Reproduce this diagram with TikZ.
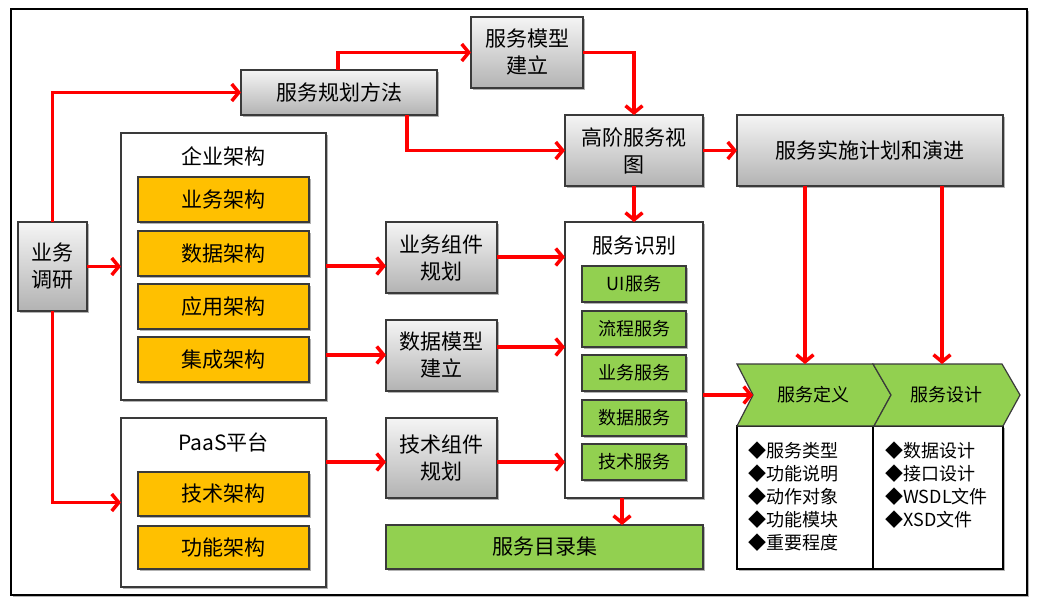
\documentclass[tikz,border=0pt]{standalone}
\usepackage{fontspec}
\setmainfont{Noto Sans CJK SC}
\usetikzlibrary{arrows.meta,shadows}
\definecolor{boxline}{HTML}{3A3A3A}
\definecolor{orangefill}{HTML}{FFC000}
\definecolor{greenfill}{HTML}{92D050}
\definecolor{arrred}{HTML}{FF0000}
\tikzset{
  shd/.style={drop shadow={shadow xshift=2pt,shadow yshift=-2pt,fill=black,opacity=0.3}},
  graybox/.style={draw=boxline,line width=1.4pt,top color=black!4,bottom color=black!30,shd,
    inner sep=0pt,outer sep=0pt,align=center,font=\fontsize{21}{27}\selectfont},
  whitebox/.style={draw=boxline,line width=1.2pt,fill=white,shd,inner sep=0pt,outer sep=0pt},
  orangebox/.style={draw=boxline,line width=1.4pt,fill=orangefill,shd,inner sep=0pt,outer sep=0pt,
    minimum width=171pt,font=\fontsize{21}{27}\selectfont},
  greenbox/.style={draw=boxline,line width=1.4pt,fill=greenfill,shd,inner sep=0pt,outer sep=0pt,
    minimum width=104pt,minimum height=36pt,font=\fontsize{18}{22}\selectfont},
  chev/.style={draw=boxline,line width=1.2pt,fill=greenfill,line join=miter},
  titletext/.style={font=\fontsize{21}{27}\selectfont,inner sep=0pt},
  listtext/.style={font=\fontsize{18}{23}\selectfont,align=left,inner sep=0pt,anchor=north west},
  arr/.style={draw=arrred,line width=3.5pt,-{Straight Barb[length=7pt,width=17pt]}},
}
\begin{document}
\begin{tikzpicture}[x=1pt,y=-1pt]
\useasboundingbox (0,0) rectangle (1038,608);
% outer frame
\draw[line width=1.4pt,fill=white,drop shadow={shadow xshift=2pt,shadow yshift=-2pt,fill=black,opacity=0.3}] (11,9) rectangle (1027,595);

% gray boxes
\node[graybox,minimum width=69pt,minimum height=89pt] (diaoyan) at (52.5,266.5) {业务\\调研};
\node[graybox,minimum width=196pt,minimum height=45pt] (guihua) at (339,92.5) {服务规划方法};
\node[graybox,minimum width=112pt,minimum height=71pt] (moxing) at (527,52.5) {服务模型\\建立};
\node[graybox,minimum width=138pt,minimum height=71pt] (gaojie) at (634,150.5) {高阶服务视\\图};
\node[graybox,minimum width=266pt,minimum height=71pt] (shishi) at (870,150.5) {服务实施计划和演进};
\node[graybox,minimum width=111pt,minimum height=71pt] (yewuzj) at (441.5,257.5) {业务组件\\规划};
\node[graybox,minimum width=111pt,minimum height=71pt] (shuju) at (441.5,355.5) {数据模型\\建立};
\node[graybox,minimum width=111pt,minimum height=80pt] (jishu) at (441.5,458) {技术组件\\规划};

% enterprise architecture
\node[whitebox,minimum width=205pt,minimum height=267pt] (qiye) at (223.5,266.5) {};
\node[titletext] (qiyet) at (223.5,156) {企业架构};
\node[orangebox,minimum height=45pt] (o1) at (223.5,199.5) {业务架构};
\node[orangebox,minimum height=45pt] (o2) at (223.5,253.5) {数据架构};
\node[orangebox,minimum height=45pt] (o3) at (223.5,306.5) {应用架构};
\node[orangebox,minimum height=45pt] (o4) at (223.5,359.5) {集成架构};

% PaaS
\node[whitebox,minimum width=205pt,minimum height=169pt] (paas) at (223.5,502.5) {};
\node[titletext] (paast) at (223.5,442) {PaaS平台};
\node[orangebox,minimum height=44pt] (o5) at (223.5,494) {技术架构};
\node[orangebox,minimum height=43pt] (o6) at (223.5,547.5) {功能架构};

% service identification
\node[whitebox,minimum width=138pt,minimum height=276pt] (shibie) at (634,360) {};
\node[titletext] (shibiet) at (634,246) {服务识别};
\node[greenbox] (g1) at (634,284) {UI服务};
\node[greenbox] (g2) at (634,329) {流程服务};
\node[greenbox] (g3) at (634,373) {业务服务};
\node[greenbox] (g4) at (634,418) {数据服务};
\node[greenbox] (g5) at (634,462) {技术服务};

% catalogue
\node[greenbox,minimum width=317pt,minimum height=44pt,font=\fontsize{21}{27}\selectfont] (mulu) at (544.5,547) {服务目录集};

% list boxes
\draw[line width=1.2pt,fill=white,drop shadow={shadow xshift=2pt,shadow yshift=-2pt,fill=black,opacity=0.3}] (737,426) rectangle (1003,569);
\draw[line width=1.2pt] (873,426) -- (873,569);
% chevrons
\draw[chev] (737,364) -- (873,364) -- (891,395) -- (874,426) -- (737,426) -- (753,395) -- cycle;
\draw[chev] (873,364) -- (1002,364) -- (1020,395) -- (1003,426) -- (874,426) -- (891,395) -- cycle;
\node[font=\fontsize{18}{22}\selectfont,inner sep=0pt] (dingyi) at (813,395) {服务定义};
\node[font=\fontsize{18}{22}\selectfont,inner sep=0pt] (sheji) at (946,395) {服务设计};
\coordinate (cdtop) at (805,364);
\coordinate (sjtop) at (942,364);
\coordinate (notch) at (753,395);

\node[listtext] (list1) at (748,442) {◆服务类型\\◆功能说明\\◆动作对象\\◆功能模块\\◆重要程度};
\node[listtext] (list2) at (885,442) {◆数据设计\\◆接口设计\\◆WSDL文件\\◆XSD文件};

% helper rows
\coordinate (r1) at (0,266);
\coordinate (r2) at (0,355);
\coordinate (r3) at (0,462);
\coordinate (r4) at (0,257);
\coordinate (r5) at (0,347);
\coordinate (r6) at (0,395);
\coordinate (c1) at (407,0);
\coordinate (c2) at (338,0);
\coordinate (c3) at (622,0);

% arrows
\draw[arr] (diaoyan.north) |- (guihua.west);
\draw[arr] (guihua.north -| c2) |- (moxing.west);
\draw[arr] (guihua.south -| c1) |- (gaojie.west);
\draw[arr] (moxing.east) -| (gaojie.north);
\draw[arr] (gaojie.east) -- (shishi.west);
\draw[arr] (gaojie.south) -- (shibie.north);
\draw[arr] (shishi.south -| cdtop) -- (cdtop);
\draw[arr] (shishi.south -| sjtop) -- (sjtop);
\draw[arr] (diaoyan.east) -- (qiye.west);
\draw[arr] (diaoyan.south) |- (paas.west);
\draw[arr] (qiye.east |- r1) -- (yewuzj.west |- r1);
\draw[arr] (qiye.east |- r2) -- (shuju.west |- r2);
\draw[arr] (paas.east |- r3) -- (jishu.west |- r3);
\draw[arr] (yewuzj.east |- r4) -- (shibie.west |- r4);
\draw[arr] (shuju.east |- r5) -- (shibie.west |- r5);
\draw[arr] (jishu.east |- r3) -- (shibie.west |- r3);
\draw[arr] (shibie.east |- r6) -- (notch);
\draw[arr] (shibie.south -| c3) -- (mulu.north -| c3);
\end{tikzpicture}
\end{document}
